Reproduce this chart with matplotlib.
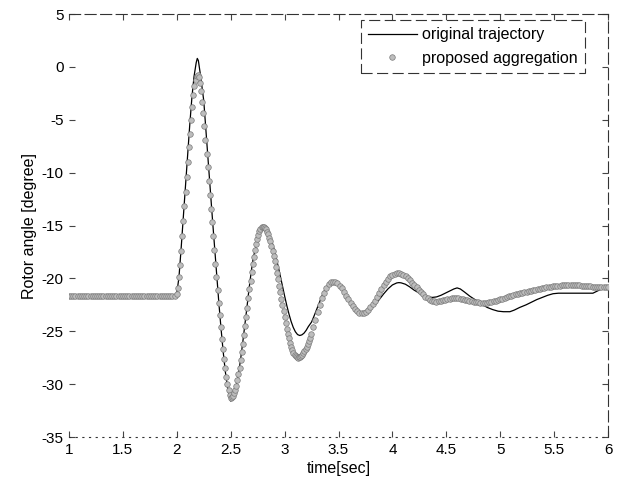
import numpy as np
import matplotlib
matplotlib.use('Agg')
import matplotlib.pyplot as plt

plt.rcParams['font.family'] = ['Liberation Sans', 'DejaVu Sans']
plt.rcParams['font.size'] = 11
plt.rcParams['axes.unicode_minus'] = False

# rotor angle before the fault (degree), held from t=1 s until the fault at 2 s
pre_fault_angle = -21.7
pre_t = np.round(np.arange(1.00, 1.99, 0.02), 2)

# proposed aggregation, ~0.01 s samples from 2.00 to 3.245 s
fault_t = np.linspace(2.00, 3.245, 123)
fault_angle = [
    -21.5, -20.9, -19.9, -18.7, -17.4, -16.0, -14.6,
    -13.2, -11.8, -10.4, -9.0, -7.6, -6.3, -5.0, -3.8, -2.7, -1.8,
    -1.2, -0.9, -0.8, -1.0, -1.5, -2.3, -3.3, -4.4, -5.6, -6.9,
    -8.2, -9.5, -10.8, -12.1, -13.4, -14.7, -16.0, -17.3, -18.6, -19.9,
    -21.1, -22.3, -23.5, -24.6, -25.7, -26.7, -27.6, -28.5, -29.3, -30.0,
    -30.6, -31.0, -31.3, -31.25, -31.11, -30.88, -30.55, -30.14, -29.65, -29.08,
    -28.44, -27.75, -26.99, -26.2, -25.37, -24.51, -23.64, -22.76, -21.89, -21.03,
    -20.2, -19.41, -18.66, -17.96, -17.32, -16.75, -16.26, -15.85, -15.52, -15.29,
    -15.15, -15.1, -15.13, -15.22, -15.37, -15.57, -15.83, -16.14, -16.51, -16.92,
    -17.37, -17.86, -18.38, -18.93, -19.5, -20.09, -20.69, -21.3, -21.91, -22.51,
    -23.1, -23.67, -24.22, -24.74, -25.23, -25.68, -26.09, -26.46, -26.77, -27.03,
    -27.23, -27.38, -27.47, -27.5, -27.48, -27.43, -27.34, -27.23, -27.07, -26.89,
    -26.68, -26.45, -26.18, -25.9, -25.6, -25.28,
]

# proposed aggregation, ~0.02 s samples from 3.265 to 6.00 s
post_t = np.linspace(3.265, 6.00, 135)
post_angle = [
    -24.6, -23.9, -23.2, -22.52, -21.9, -21.36, -20.9, -20.57, -20.37, -20.3,
    -20.34, -20.47, -20.68, -20.95, -21.27, -21.62, -21.98, -22.33, -22.65, -22.92,
    -23.13, -23.26, -23.3, -23.26, -23.16, -22.98, -22.74, -22.46, -22.13, -21.77,
    -21.4, -21.03, -20.67, -20.34, -20.06, -19.82, -19.64, -19.54, -19.5, -19.52,
    -19.58, -19.68, -19.82, -19.98, -20.18, -20.39, -20.62, -20.85, -21.08, -21.31,
    -21.52, -21.72, -21.88, -22.02, -22.12, -22.18, -22.2, -22.17, -22.12, -22.06,
    -22.0, -21.95, -21.91, -21.88, -21.87, -21.87, -21.89, -21.92, -21.97, -22.02,
    -22.07, -22.12, -22.17, -22.21, -22.24, -22.27, -22.29, -22.3, -22.3, -22.29,
    -22.26, -22.21, -22.16, -22.11, -22.05, -21.98, -21.92, -21.85, -21.78, -21.71,
    -21.64, -21.58, -21.52, -21.47, -21.42, -21.37, -21.32, -21.27, -21.22, -21.17,
    -21.12, -21.07, -21.02, -20.97, -20.92, -20.88, -20.84, -20.8, -20.77, -20.74,
    -20.72, -20.7, -20.68, -20.66, -20.65, -20.64, -20.63, -20.63, -20.63, -20.64,
    -20.65, -20.66, -20.68, -20.7, -20.72, -20.74, -20.76, -20.78, -20.8, -20.81,
    -20.82, -20.82, -20.82, -20.81, -20.8,
]

# original trajectory
orig_t = [1.00, 1.98, 2.00, 2.02, 2.04, 2.06, 2.08, 2.10, 2.12, 2.14,
          2.16, 2.18, 2.19, 2.20, 2.22, 2.25, 2.27, 2.29, 2.31, 2.33,
          2.35, 2.37, 2.39, 2.41, 2.43, 2.45, 2.47, 2.49, 2.50, 2.51,
          2.53, 2.55, 2.57, 2.59, 2.61, 2.63, 2.65, 2.67, 2.69, 2.71,
          2.74, 2.76, 2.78, 2.80, 2.82, 2.84, 2.86, 2.88, 2.90, 2.92,
          2.94, 2.96, 2.98, 3.00, 3.02, 3.04, 3.06, 3.08, 3.10, 3.12,
          3.14, 3.16, 3.18, 3.20, 3.22, 3.25, 3.27, 3.29, 3.31, 3.33,
          3.35, 3.37, 3.39, 3.41, 3.43, 3.45, 3.49, 3.53, 3.57, 3.61,
          3.65, 3.69, 3.71, 3.76, 3.80, 3.84, 3.88, 3.92, 3.96, 4.00,
          4.04, 4.06, 4.08, 4.12, 4.16, 4.20, 4.25, 4.29, 4.33, 4.37,
          4.41, 4.45, 4.49, 4.53, 4.57, 4.60, 4.63, 4.67, 4.72, 4.78,
          4.83, 4.88, 4.93, 4.98, 5.03, 5.09, 5.13, 5.18, 5.24, 5.29,
          5.34, 5.39, 5.44, 5.49, 5.54, 5.69, 5.86, 5.90, 5.95, 6.00]
orig_angle = [-21.7, -21.7, -21.4, -19.9, -17.2, -14.3, -11.4, -8.4, -5.5, -2.9,
              -0.9, 0.4, 0.8, 0.6, -0.8, -3.2, -6.0, -8.8, -11.6, -14.3,
              -17.0, -19.7, -22.3, -24.7, -26.9, -28.8, -30.3, -31.3, -31.6, -31.5,
              -31.0, -30.2, -29.1, -27.8, -26.2, -24.5, -22.8, -21.0, -19.4, -18.0,
              -16.8, -15.9, -15.3, -15.1, -15.19, -15.45, -15.87, -16.44, -17.15, -17.95,
              -18.84, -19.77, -20.73, -21.66, -22.55, -23.35, -24.06, -24.63, -25.05, -25.31,
              -25.4, -25.34, -25.18, -24.91, -24.56, -24.13, -23.64, -23.12, -22.58, -22.06,
              -21.57, -21.14, -20.79, -20.52, -20.36, -20.3, -20.47, -20.95, -21.62, -22.33,
              -22.92, -23.26, -23.3, -23.2, -22.92, -22.5, -21.98, -21.45, -20.98, -20.62,
              -20.43, -20.4, -20.42, -20.55, -20.8, -21.1, -21.4, -21.62, -21.75, -21.8,
              -21.75, -21.6, -21.4, -21.2, -21.0, -20.9, -21.0, -21.3, -21.7, -22.1,
              -22.45, -22.75, -22.95, -23.1, -23.15, -23.15, -23.0, -22.75, -22.5, -22.25,
              -22.0, -21.8, -21.6, -21.45, -21.4, -21.4, -21.4, -21.2, -20.95, -20.9]

assert len(fault_angle) == len(fault_t)
assert len(post_angle) == len(post_t)
assert len(orig_angle) == len(orig_t)

prop_t = np.concatenate([pre_t, fault_t, post_t])
prop_angle = np.concatenate([np.full(len(pre_t), pre_fault_angle),
                             fault_angle, post_angle])

fig = plt.figure(figsize=(6.21, 4.83), dpi=100)
ax = fig.add_axes([0.1111, 0.0952, 0.868, 0.8758])

ax.plot(orig_t, orig_angle, color='black', lw=0.9, label='original trajectory',
        zorder=2)
ax.plot(prop_t, prop_angle, ls='none', marker='o', ms=4.0,
        mfc='#bdbdbd', mec='#7a7a7a', mew=0.5, label='proposed aggregation',
        zorder=3)

ax.set_xlim(1, 6)
ax.set_ylim(-35, 5)
ax.set_xticks(np.arange(1, 6.01, 0.5))
ax.set_xticklabels(['1', '1.5', '2', '2.5', '3', '3.5', '4', '4.5', '5', '5.5', '6'])
ax.set_yticks(np.arange(-35, 5.1, 5))
ax.tick_params(direction='in', length=4, width=0.8, top=True, right=True,
               color='#444444', pad=4)

# scanned-looking frame
ax.spines['left'].set_visible(False)
ax.spines['bottom'].set_linestyle((0, (1, 5)))
for s in ['top', 'right']:
    ax.spines[s].set_linestyle((0, (10, 4)))
for s in ax.spines.values():
    s.set_color('#333333')
    s.set_linewidth(0.8)

ax.set_xlabel('time[sec]', fontsize=11.5, labelpad=3)
ax.set_ylabel('Rotor angle [degree]', fontsize=11.5, labelpad=3)

leg = ax.legend(loc='upper right', bbox_to_anchor=(0.957, 0.986),
                borderaxespad=0, fancybox=False, framealpha=1, fontsize=11.5,
                handlelength=3.1, handletextpad=0.3, labelspacing=0.55,
                borderpad=0.45)
leg.get_frame().set_edgecolor('#333333')
leg.get_frame().set_linewidth(0.8)
leg.get_frame().set_linestyle((0, (10, 4)))

fig.savefig('out.png', dpi=100)
